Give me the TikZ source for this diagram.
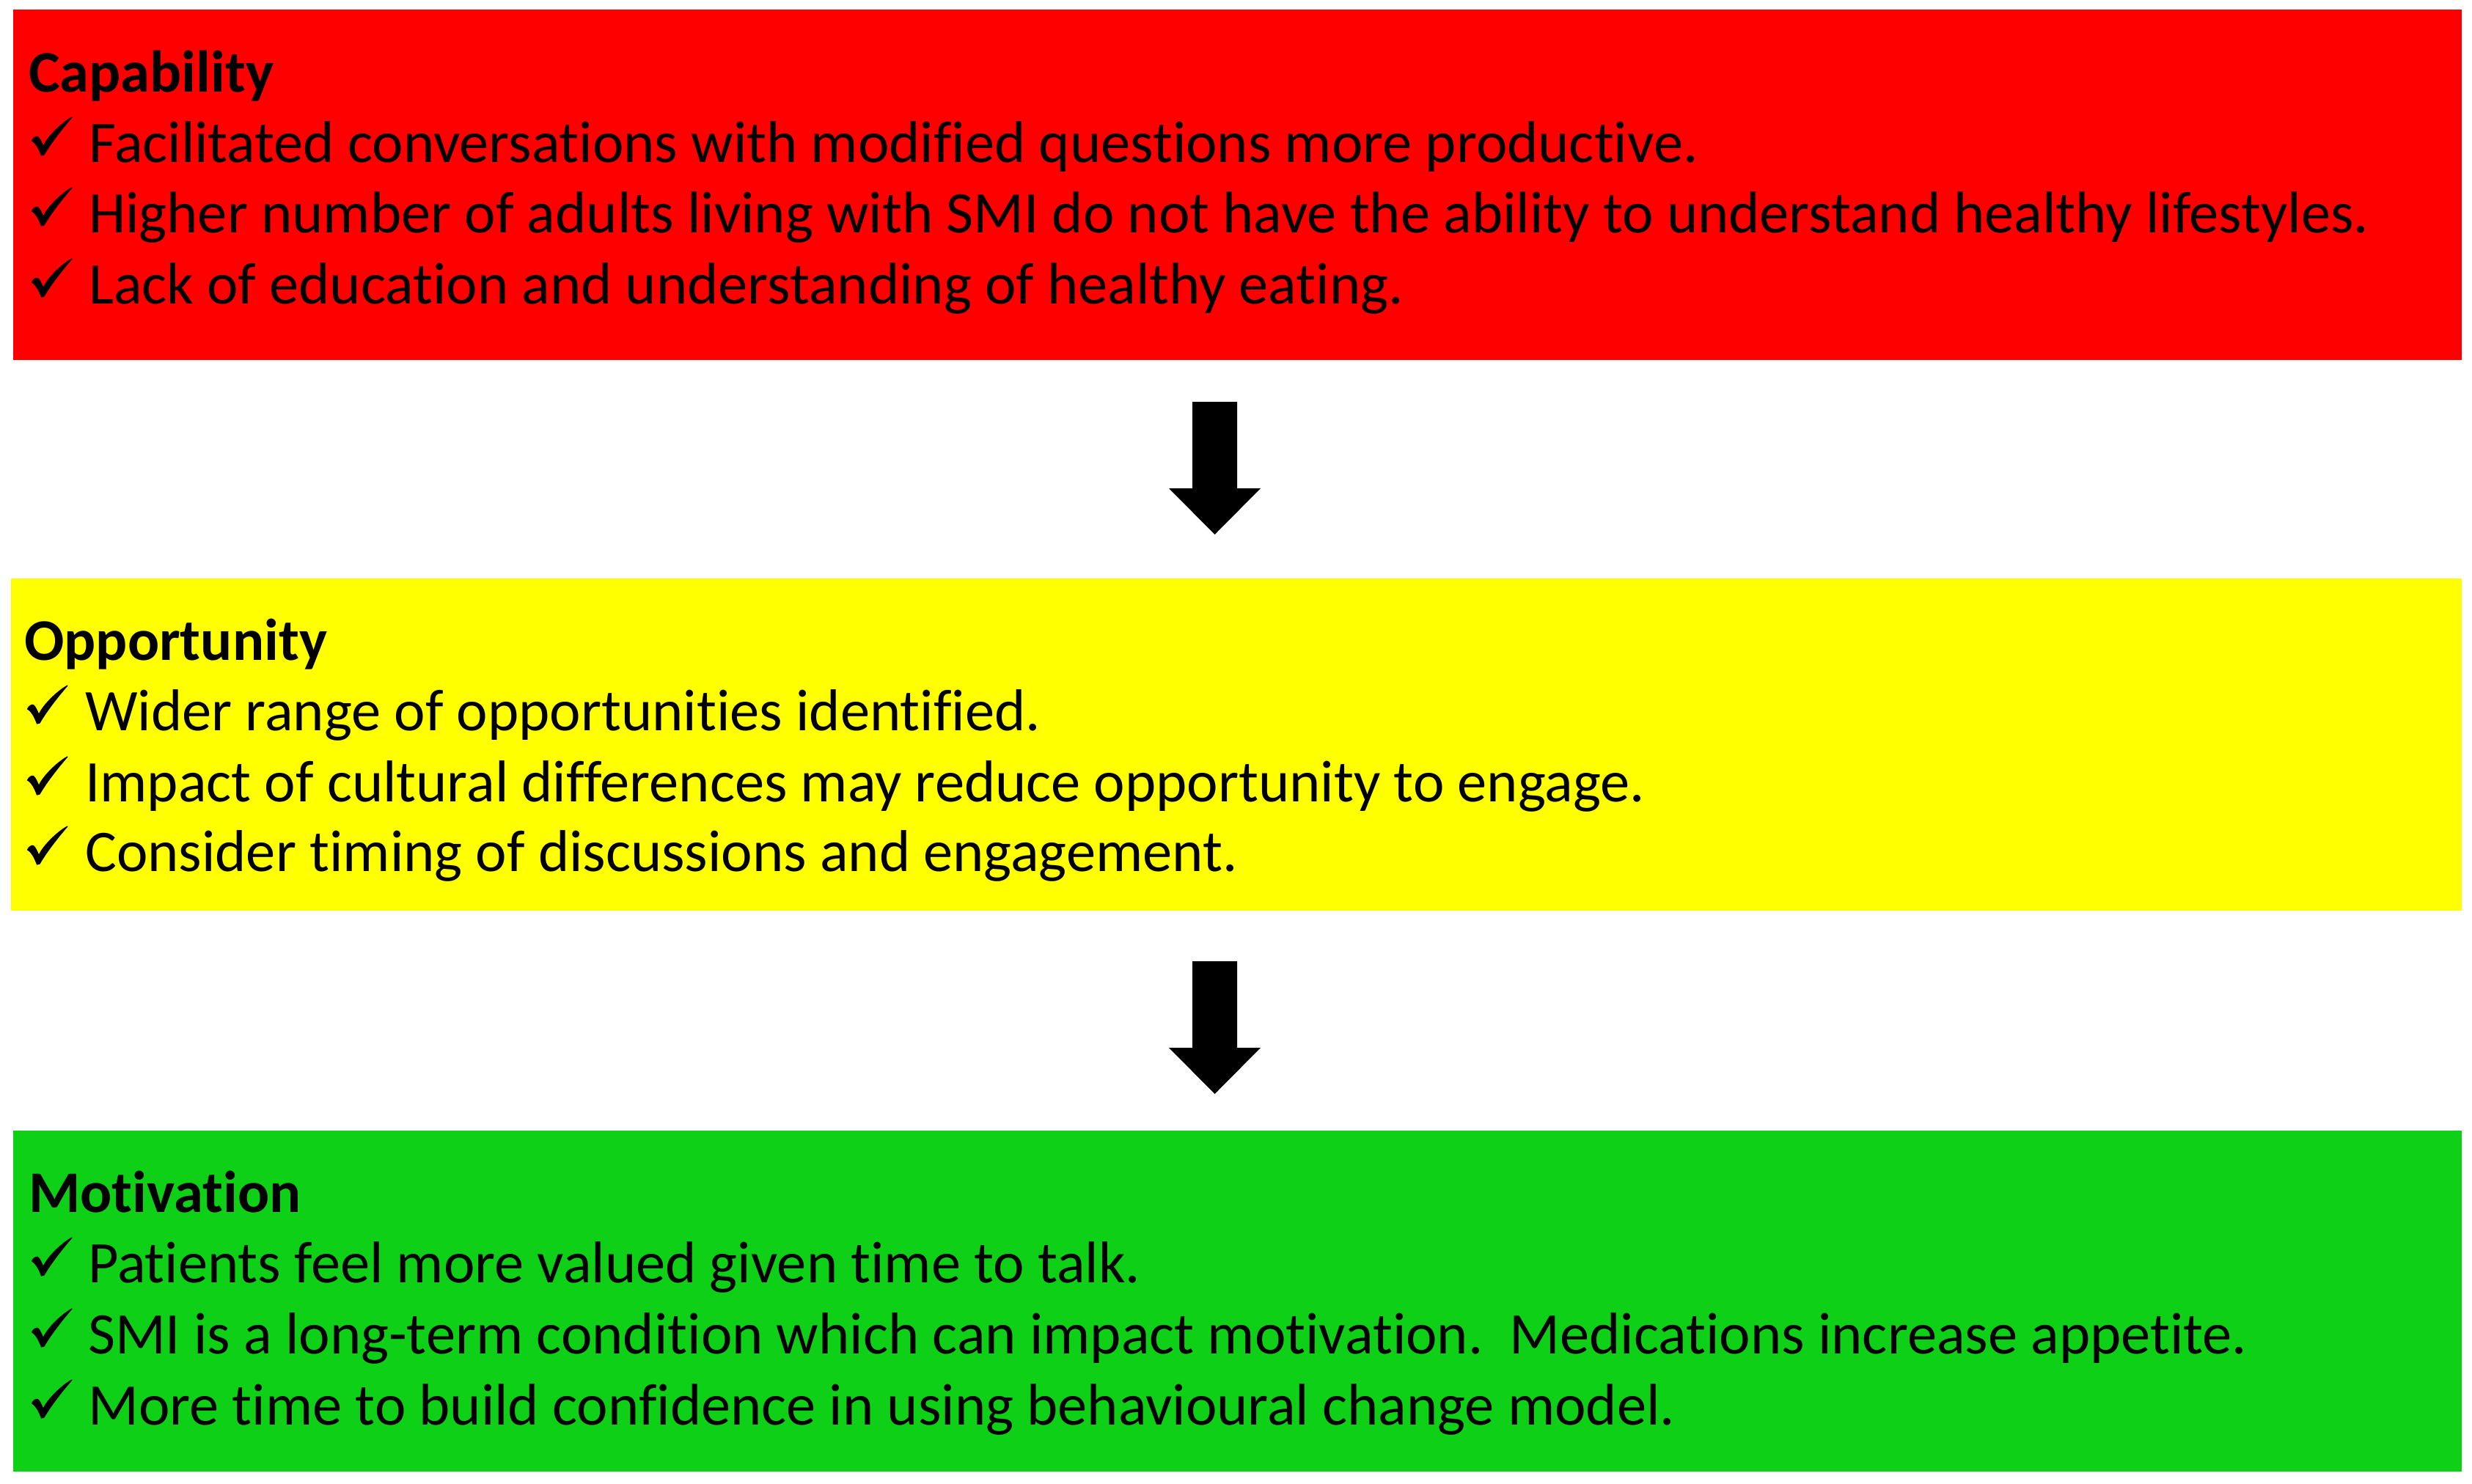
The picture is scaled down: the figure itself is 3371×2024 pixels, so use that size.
\documentclass[tikz,border=0pt]{standalone}
\usepackage{fontspec}
\setmainfont{Carlito}[Ligatures=NoCommon]

\definecolor{capred}{HTML}{FF0000}
\definecolor{oppyellow}{HTML}{FFFF00}
\definecolor{motgreen}{HTML}{0ED016}

\tikzset{
  panel/.style={anchor=north west, inner sep=0pt, minimum width=3339pt},
  heading/.style={anchor=base west, inner sep=0pt, font=\fontsize{80.5}{96}\selectfont\bfseries},
  item/.style={anchor=base west, inner sep=0pt, font=\fontsize{80.5}{96}\selectfont},
  % calligraphic tick used as the bullet of each line
  tickmark/.pic={
    \filldraw[black, line width=1.2pt, line join=round]
      (13.5,42) .. controls (15.5,38) and (19,35.5) .. (21.5,36.5)
      .. controls (24.5,39) and (27,45) .. (29,50)
      .. controls (33,39) and (52,19) .. (68,10)
      .. controls (55,25) and (40,44) .. (30,61)
      -- (26.5,62)
      .. controls (24,55) and (19.5,45) .. (13.5,42) -- cycle;
  },
  blockarrow/.pic={
    \fill[black] (-30.5,0) -- (30.5,0) -- (30.5,118) -- (62.5,118) -- (0,181)
      -- (-62.5,118) -- (-30.5,118) -- cycle;
  }
}

\begin{document}
\begin{tikzpicture}[x=1pt,y=-1pt]
\useasboundingbox[fill=white] (0,0) rectangle (3371,2024);

% coloured panels
\node[panel, fill=capred, minimum height=478pt] (cap) at (18,13) {};
\node[panel, fill=oppyellow, minimum height=453pt, minimum width=3342pt] (opp) at (15,789) {};
\node[panel, fill=motgreen, minimum height=465pt] (mot) at (18,1542) {};

% Capability
\node[heading] (capT) at (39,125) {Capability};
\pic (capc1) at (30,150) {tickmark};
\node[item] (cap1) at (121,221) {Facilitated conversations with modified questions more productive.};
\pic (capc2) at (30,246) {tickmark};
\node[item] (cap2) at (121,317) {Higher number of adults living with SMI do not have the ability to understand healthy lifestyles.};
\pic (capc3) at (30,343) {tickmark};
\node[item] (cap3) at (121,414) {Lack of education and understanding of healthy eating.};

% Opportunity
\node[heading] (oppT) at (33,900) {Opportunity};
\pic (oppc1) at (24,925) {tickmark};
\node[item] (opp1) at (116,996) {Wider range of opportunities identified.};
\pic (oppc2) at (24,1022) {tickmark};
\node[item] (opp2) at (116,1093) {Impact of cultural differences may reduce opportunity to engage.};
\pic (oppc3) at (24,1117) {tickmark};
\node[item] (opp3) at (116,1188) {Consider timing of discussions and engagement.};

% Motivation
\node[heading] (motT) at (39,1653) {Motivation};
\pic (motc1) at (30,1678) {tickmark};
\node[item] (mot1) at (120,1749) {Patients feel more valued given time to talk.};
\pic (motc2) at (30,1775) {tickmark};
\node[item] (mot2) at (120,1846) {SMI is a long-term condition which can impact motivation.\ \ Medications increase appetite.};
\pic (motc3) at (30,1872) {tickmark};
\node[item] (mot3) at (120,1943) {More time to build confidence in using behavioural change model.};

% block arrows between the panels
\coordinate (a1) at (1656.5,548);
\coordinate (a2) at (1656.5,1311);
\pic at (a1) {blockarrow};
\pic at (a2) {blockarrow};
\end{tikzpicture}
\end{document}
